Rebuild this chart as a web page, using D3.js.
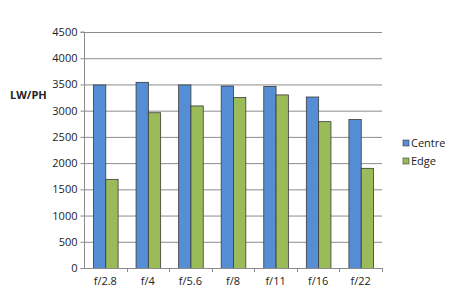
<!DOCTYPE html>
<html><head><meta charset="utf-8">
<script src="https://cdn.jsdelivr.net/npm/d3@7"></script>
<style>body{margin:0;background:#fff}svg{display:block}text{font-family:"Open Sans","Liberation Sans",sans-serif;fill:#222}</style>
</head><body><svg id="c" width="450" height="301"></svg>
<script>
const categories = ["f/2.8","f/4","f/5.6","f/8","f/11","f/16","f/22"];
const centre = [3500,3550,3500,3480,3470,3270,2840];
const edge = [1700,2970,3100,3260,3310,2800,1910];
const seriesNames = ["Centre","Edge"];
const yTicks = [0,500,1000,1500,2000,2500,3000,3500,4000,4500];
const colors = ["#558ed5","#9bbb59"];

const svg = d3.select("#c");
const m = {l:84, r:382, t:32, b:268};
const x = d3.scaleBand().domain(categories).range([m.l,m.r]).paddingInner(0).paddingOuter(0);
const y = d3.scaleLinear().domain([0,4500]).range([m.b,m.t]);
const inner = d3.scaleBand().domain(seriesNames).range([0, x.bandwidth()]).paddingInner(0).paddingOuter(0.73);

// gridlines
svg.append("g").selectAll("line").data(yTicks.filter(d=>d>0)).join("line")
  .attr("x1",m.l).attr("x2",m.r).attr("y1",d=>y(d)+0.5).attr("y2",d=>y(d)+0.5)
  .attr("stroke","#8c8c8c").attr("stroke-width",1);

// bars
const data = categories.map((c,i)=>({c, vals:[{s:"Centre",v:centre[i]},{s:"Edge",v:edge[i]}]}));
svg.append("g").selectAll("g").data(data).join("g")
  .attr("transform",d=>`translate(${x(d.c)},0)`)
  .selectAll("rect").data(d=>d.vals).join("rect")
  .attr("x",d=>inner(d.s)+0.5).attr("width",inner.bandwidth())
  .attr("y",d=>y(d.v)+0.5).attr("height",d=>y(0)-y(d.v))
  .attr("fill",(d,i)=>colors[i]).attr("stroke","#3a3a3a").attr("stroke-width",0.8);

// y axis
const ya = svg.append("g").attr("transform",`translate(${m.l+0.5},0)`)
  .call(d3.axisLeft(y).tickValues(yTicks).tickSize(4).tickPadding(3).tickFormat(d3.format("d")));
ya.select(".domain").attr("stroke","#8c8c8c").attr("d",`M-4,${m.t}H0V${m.b}`);
ya.selectAll(".tick line").attr("stroke","#8c8c8c");
ya.selectAll("text").attr("font-size","11px").style("font-family",'"Open Sans","Liberation Sans",sans-serif').attr("fill","#222");

// x axis
const xa = svg.append("g").attr("transform",`translate(0,${m.b+0.5})`)
  .call(d3.axisBottom(x).tickSize(0).tickPadding(9));
xa.select(".domain").attr("stroke","#8c8c8c").attr("d",`M${m.l},0H${m.r}`);
xa.selectAll("text").attr("font-size","11px").style("font-family",'"Open Sans","Liberation Sans",sans-serif').attr("fill","#222");
svg.append("g").selectAll("line").data(categories.slice(1).concat(["__end"])).join("line")
  .attr("x1",(d,i)=>Math.round(m.l+x.bandwidth()*(i+1))+0.5).attr("x2",(d,i)=>Math.round(m.l+x.bandwidth()*(i+1))+0.5)
  .attr("y1",m.b).attr("y2",m.b+4).attr("stroke","#8c8c8c");

// y title
svg.append("text").attr("x",10).attr("y",99).attr("font-size","11px").attr("font-weight","bold").text("LW/PH");

// legend
const lg = svg.append("g").selectAll("g").data(seriesNames).join("g")
  .attr("transform",(d,i)=>`translate(403,${140+i*18})`);
lg.append("rect").attr("width",6).attr("height",6).attr("fill",(d,i)=>colors[i]).attr("stroke","#3a3a3a").attr("stroke-width",0.6);
lg.append("text").attr("x",8).attr("y",7).attr("font-size","11px").text(d=>d);
</script></body></html>
